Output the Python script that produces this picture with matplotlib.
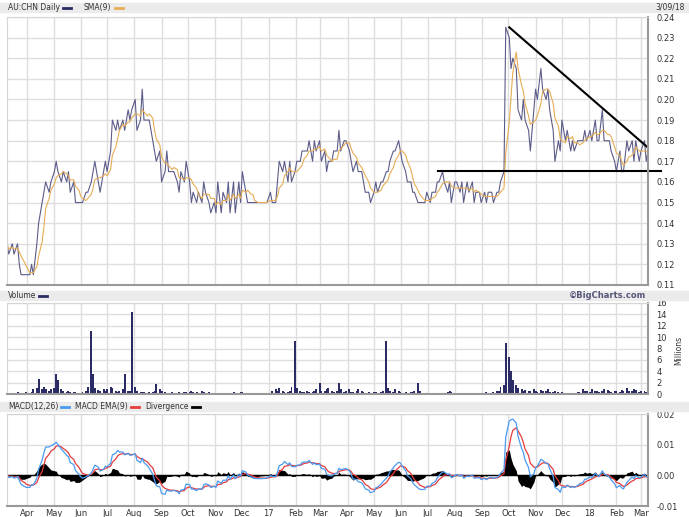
import numpy as np
import pandas as pd
import matplotlib.pyplot as plt
from matplotlib.lines import Line2D
from matplotlib.patches import Rectangle

# AU:CHN closes, every 2nd trading day from 2016-03-09 to 2018-03-09
price = [
    0.13, 0.125, 0.13, 0.125, 0.13, 0.12, 0.115, 0.115, 0.115, 0.115,
    0.12, 0.115, 0.13, 0.14, 0.15, 0.155, 0.16, 0.155, 0.16, 0.165,
    0.17, 0.165, 0.16, 0.165, 0.16, 0.165, 0.155, 0.16, 0.15, 0.15,
    0.15, 0.15, 0.155, 0.155, 0.16, 0.165, 0.17, 0.16, 0.155, 0.165,
    0.17, 0.165, 0.175, 0.19, 0.185, 0.19, 0.185, 0.19, 0.185, 0.195,
    0.19, 0.195, 0.20, 0.185, 0.19, 0.205, 0.19, 0.19, 0.19, 0.18,
    0.175, 0.17, 0.175, 0.16, 0.165, 0.175, 0.165, 0.165, 0.165, 0.16,
    0.155, 0.165, 0.16, 0.17, 0.16, 0.15, 0.155, 0.15, 0.155, 0.15,
    0.16, 0.155, 0.15, 0.145, 0.15, 0.145, 0.16, 0.145, 0.155, 0.15,
    0.16, 0.145, 0.16, 0.145, 0.16, 0.15, 0.165, 0.155, 0.15, 0.15,
    0.15, 0.15, 0.15, 0.15, 0.15, 0.15, 0.15, 0.155, 0.15, 0.15,
    0.16, 0.17, 0.165, 0.17, 0.16, 0.17, 0.16, 0.165, 0.17, 0.17,
    0.175, 0.175, 0.175, 0.18, 0.17, 0.18, 0.175, 0.18, 0.17, 0.175,
    0.165, 0.17, 0.17, 0.175, 0.175, 0.185, 0.175, 0.18, 0.18, 0.175,
    0.17, 0.165, 0.17, 0.165, 0.165, 0.16, 0.155, 0.155, 0.15, 0.155,
    0.16, 0.155, 0.16, 0.16, 0.165, 0.165, 0.17, 0.175, 0.175, 0.18,
    0.175, 0.17, 0.165, 0.16, 0.16, 0.155, 0.155, 0.15, 0.15, 0.15,
    0.15, 0.155, 0.15, 0.155, 0.155, 0.16, 0.16, 0.165, 0.16, 0.155,
    0.16, 0.15, 0.16, 0.16, 0.155, 0.16, 0.15, 0.16, 0.155, 0.16,
    0.15, 0.155, 0.155, 0.15, 0.155, 0.15, 0.155, 0.155, 0.15, 0.155,
    0.155, 0.16, 0.165, 0.235, 0.23, 0.215, 0.22, 0.215, 0.195, 0.19,
    0.20, 0.19, 0.185, 0.175, 0.195, 0.205, 0.20, 0.215, 0.205, 0.20,
    0.205, 0.195, 0.185, 0.17, 0.18, 0.175, 0.19, 0.18, 0.185, 0.175,
    0.18, 0.175, 0.18, 0.18, 0.18, 0.185, 0.18, 0.185, 0.18, 0.19,
    0.18, 0.18, 0.195, 0.18, 0.18, 0.18, 0.175, 0.17, 0.165, 0.175,
    0.165, 0.165, 0.18, 0.175, 0.18, 0.17, 0.18, 0.17, 0.175, 0.18,
    0.17, 0.175,
]

# volume in millions, same dates
volume = [
    0.2, 0.1, 0.2, 0.1, 0.3, 0.2, 0.1, 0.2, 0.3, 0.2, 0.4, 0.8,
    1.0, 2.6, 0.9, 1.2, 0.8, 0.6, 0.9, 1.0, 3.5, 2.5,
    0.8, 0.5, 0.4, 0.6, 0.3, 0.4, 0.3, 0.2, 0.2, 0.3, 0.6, 1.2,
    11.0, 3.5, 1.0, 0.7, 0.5, 0.8, 0.6, 0.9, 1.2, 1.0, 0.6, 0.4,
    0.5, 0.8, 3.5, 0.6, 0.5, 14.5, 1.2, 0.6, 0.4, 0.3, 0.3, 0.2,
    0.3, 0.4, 0.6, 1.7, 0.8, 0.5, 0.3, 0.2, 0.2, 0.3, 0.2, 0.2,
    0.3, 0.2, 0.4, 0.3, 0.4, 0.6, 0.4, 0.3, 0.2, 0.5, 0.3, 0.2,
    0.3, 0.2, 0.2, 0.1, 0.2, 0.1, 0.1, 0.2, 0.1, 0.2, 0.3, 0.2,
    0.1, 0.3, 0.4, 0.2, 0.1, 0.1, 0.1, 0.1, 0.1, 0.2, 0.1, 0.1,
    0.1, 0.2, 0.5, 0.8, 0.6, 1.0, 0.5, 0.4, 0.3, 0.6, 1.2, 9.4,
    1.0, 0.5, 0.4, 0.3, 0.6, 0.4, 0.3, 0.5, 0.8, 2.0, 0.6, 0.5,
    0.8, 1.0, 0.6, 0.4, 0.5, 2.0, 0.8, 0.4, 0.6, 0.8, 0.4, 0.3,
    0.5, 0.8, 0.6, 0.3, 0.2, 0.3, 0.2, 0.4, 0.3, 0.2, 0.3, 0.6,
    9.3, 1.0, 0.6, 0.4, 0.8, 0.5, 0.3, 0.2, 0.3, 0.2, 0.3, 0.4,
    0.6, 2.0, 0.5, 0.2, 0.1, 0.2, 0.1, 0.2, 0.1, 0.1, 0.2, 0.1,
    0.2, 0.3, 0.5, 0.4, 0.2, 0.1, 0.2, 0.1, 0.1, 0.2, 0.1, 0.1,
    0.1, 0.2, 0.1, 0.1, 0.2, 0.3, 0.1, 0.2, 0.3, 0.5, 0.6, 1.2,
    1.5, 9.0, 6.5, 4.0, 2.5, 1.5, 1.0, 0.8, 0.6, 0.7, 0.5, 0.6,
    0.8, 0.5, 0.4, 0.7, 0.5, 0.6, 0.8, 0.4, 0.3, 0.5, 0.3, 0.2,
    0.3, 0.2, 0.2, 0.1, 0.2, 0.2, 0.3, 0.4, 0.8, 0.6, 0.5, 0.4,
    0.9, 0.5, 0.6, 0.4, 0.5, 0.9, 0.7, 0.5, 0.4, 0.6, 0.5, 0.4,
    0.7, 0.5, 1.0, 0.6, 0.5, 0.8, 0.7, 0.4, 0.6, 0.5, 0.4, 0.3,
]

# hand-drawn trendlines
trend_dates = ["2017-10-02", "2018-03-08"]
trend_vals = [0.235, 0.177]
support_dates = ["2017-07-13", "2018-03-24"]
support_vals = [0.1655, 0.1655]

n = min(len(price), len(volume))
dates = pd.bdate_range("2016-03-09", periods=n, freq="2B")
s = pd.Series(price[:n], index=dates)
vol = np.array(volume[:n])

# indicators (periods in days -> 2-day steps)
def step_alpha(days):
    return 1 - (1 - 2 / (days + 1)) ** 2

sma = s.rolling(5, min_periods=1).mean()
macd = s.ewm(alpha=step_alpha(12), adjust=False).mean() - s.ewm(alpha=step_alpha(26), adjust=False).mean()
signal = macd.ewm(alpha=step_alpha(9), adjust=False).mean()
div = macd - signal

W, H = 689, 517
def box(x0, y0, x1, y1):
    return [x0 / W, 1 - y1 / H, (x1 - x0) / W, (y1 - y0) / H]

fig = plt.figure(figsize=(W / 100, H / 100), dpi=100)
ax1 = fig.add_axes(box(7, 17, 648, 285))
ax2 = fig.add_axes(box(7, 303, 648, 394))
ax3 = fig.add_axes(box(7, 414, 648, 506))

# grey title bands
for y0, y1 in [(3, 12), (291, 300), (402, 411)]:
    fig.patches.append(Rectangle((0, 1 - y1 / H), 1, (y1 - y0) / H,
                                 transform=fig.transFigure, color="#ebebeb", zorder=0))

months = pd.date_range("2016-04-01", "2018-03-01", freq="MS")
month_labels = [d.strftime("%y") if d.month == 1 else d.strftime("%b") for d in months]
xmin, xmax = pd.Timestamp("2016-03-09"), pd.Timestamp("2018-03-09")

tc = "#333333"
for ax in (ax1, ax2, ax3):
    ax.set_xlim(xmin, xmax)
    ax.set_xticks(months)
    ax.yaxis.tick_right()
    ax.grid(True, color="#dedede", lw=1)
    ax.set_axisbelow(True)
    ax.tick_params(length=0, labelsize=6, colors=tc, pad=6)
    ax.spines["left"].set_color("#d5d5d5")
    ax.spines["top"].set_color("#d5d5d5")
    ax.spines["right"].set_color("#999999")
    ax.spines["bottom"].set_color("#999999")
    ax.spines["right"].set_linewidth(1.5)
    ax.spines["bottom"].set_linewidth(1.5)
ax1.set_xticklabels([])
ax2.set_xticklabels([])
ax3.set_xticklabels(month_labels)
ax3.tick_params(axis="x", pad=2)

# price panel
ax1.plot(dates, s, color="#5c5c8a", lw=0.8)
ax1.plot(dates, sma, color="#e6ad55", lw=0.8)
ax1.plot(pd.to_datetime(trend_dates), trend_vals, color="black", lw=1.5)
ax1.plot(pd.to_datetime(support_dates), support_vals, color="black", lw=1.5, clip_on=False)
ax1.set_ylim(0.11, 0.24)
ax1.set_yticks(np.arange(0.11, 0.2401, 0.01))
ax1.yaxis.set_major_formatter(plt.FormatStrFormatter("%.2f"))

# volume panel
ax2.bar(dates, vol, width=2.2, color="#2b2b66", linewidth=0)
ax2.set_ylim(0, 16)
ax2.set_yticks(range(0, 17, 2))

# MACD panel
ax3.fill_between(dates, div, 0, color="black", lw=0)
ax3.axhline(0, color="black", lw=1)
ax3.plot(dates, signal, color="#e53b3b", lw=0.9)
ax3.plot(dates, macd, color="#4a9af0", lw=0.9)
ax3.set_ylim(-0.01, 0.02)
ax3.set_yticks([-0.01, 0.0, 0.01, 0.02])
ax3.yaxis.set_major_formatter(plt.FormatStrFormatter("%.2f"))

# band texts with legend swatches right after them
renderer = fig.canvas.get_renderer()
def label(x, y, txt, swatch):
    t = fig.text(x / W, 1 - y / H, txt, fontsize=5.5, color=tc, va="center", ha="left")
    x_end = t.get_window_extent(renderer).x1
    fig.lines.append(Line2D([(x_end + 3) / W, (x_end + 11) / W], [1 - y / H, 1 - y / H],
                            transform=fig.transFigure, color=swatch, lw=2))
    return x_end + 11

label(8, 7.5, "AU:CHN Daily", "#2b2b66")
label(84, 7.5, "SMA(9)", "#e6ad55")
label(8, 296, "Volume", "#2b2b66")
x = label(8, 406.5, "MACD(12,26)", "#4a9af0")
x = label(x + 6, 406.5, "MACD EMA(9)", "#e53b3b")
label(x + 6, 406.5, "Divergence", "black")
fig.text(685 / W, 1 - 7.5 / H, "3/09/18", fontsize=5.5, color=tc, va="center", ha="right")
fig.text(646 / W, 1 - 296 / H, "©BigCharts.com", fontsize=6, color="#55557a",
         fontweight="bold", va="center", ha="right")
fig.text(679 / W, 1 - 350 / H, "Millions", fontsize=5.5, color=tc, rotation=90,
         va="center", ha="center")

fig.savefig("out.png", dpi=100)
